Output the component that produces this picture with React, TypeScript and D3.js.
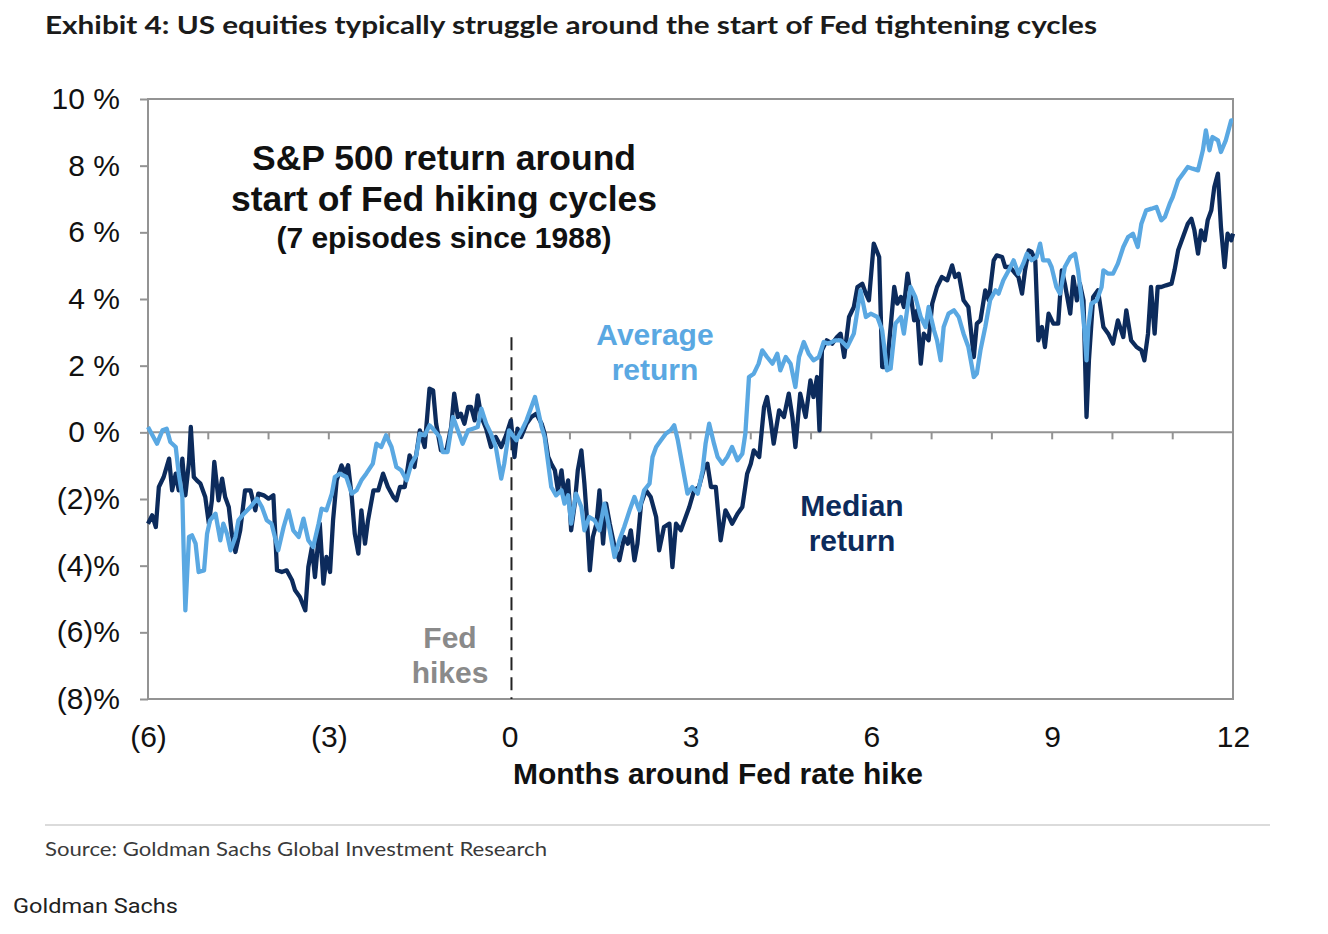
import { useEffect, useRef } from "react";
import * as d3 from "d3";

// [months around first hike, cumulative S&P 500 return %]
const averageReturn: [number, number][] = [
  [-6.0, 0.16], [-5.85, -0.34], [-5.76, 0.06], [-5.69, 0.11], [-5.63, -0.29], [-5.54, -0.44], [-5.49, -1.24],
  [-5.43, -1.94], [-5.41, -3.44], [-5.38, -5.34], [-5.32, -3.14], [-5.27, -3.09], [-5.21, -3.34], [-5.16, -4.19],
  [-5.07, -4.14], [-5.02, -3.04], [-4.97, -2.64], [-4.88, -2.44], [-4.8, -3.24], [-4.75, -2.74], [-4.69, -3.04],
  [-4.63, -3.54], [-4.55, -3.14], [-4.5, -2.64], [-4.41, -2.44], [-4.3, -2.24], [-4.19, -1.99], [-4.11, -2.24],
  [-4.03, -2.64], [-3.95, -2.74], [-3.84, -3.54], [-3.75, -2.84], [-3.67, -2.34], [-3.59, -2.94], [-3.5, -3.14],
  [-3.42, -2.59], [-3.34, -3.24], [-3.26, -3.44], [-3.17, -2.74], [-3.12, -2.29], [-3.04, -2.34], [-2.95, -1.84],
  [-2.9, -1.34], [-2.82, -1.24], [-2.71, -1.34], [-2.62, -1.84], [-2.54, -1.74], [-2.46, -1.44], [-2.38, -1.24],
  [-2.27, -0.94], [-2.21, -0.34], [-2.13, -0.44], [-2.05, -0.09], [-1.96, -0.44], [-1.88, -1.04], [-1.8, -1.14],
  [-1.71, -1.44], [-1.63, -0.94], [-1.55, -0.69], [-1.49, -0.04], [-1.41, -0.09], [-1.33, 0.21], [-1.25, 0.06],
  [-1.16, -0.14], [-1.11, -0.59], [-1.03, -0.59], [-0.94, 0.46], [-0.86, 0.06], [-0.78, -0.34], [-0.69, 0.06],
  [-0.61, 0.11], [-0.53, 0.16], [-0.47, 0.71], [-0.39, 0.26], [-0.31, -0.04], [-0.23, -0.44], [-0.14, -1.39],
  [-0.09, -0.94], [-0.01, 0.06], [0.03, -0.04], [0.11, -0.24], [0.2, 0.06], [0.28, 0.36], [0.36, 0.76],
  [0.42, 1.06], [0.47, 0.66], [0.53, 0.16], [0.58, -0.14], [0.64, -0.94], [0.69, -1.64], [0.77, -1.89],
  [0.86, -1.74], [0.91, -2.14], [0.97, -1.89], [1.02, -2.74], [1.1, -1.84], [1.19, -2.24], [1.24, -2.94],
  [1.32, -2.54], [1.41, -2.64], [1.49, -2.94], [1.57, -2.14], [1.66, -2.94], [1.74, -3.74], [1.82, -3.24],
  [1.9, -2.84], [1.99, -2.34], [2.07, -1.94], [2.15, -2.34], [2.23, -1.74], [2.32, -1.54], [2.37, -0.74],
  [2.43, -0.44], [2.51, -0.24], [2.59, -0.04], [2.67, 0.06], [2.73, 0.21], [2.79, -0.24], [2.84, -0.74],
  [2.9, -1.34], [2.95, -1.84], [3.03, -1.64], [3.12, -1.84], [3.2, -1.14], [3.25, -0.34], [3.31, 0.26],
  [3.39, -0.34], [3.45, -0.74], [3.53, -0.94], [3.61, -0.74], [3.69, -0.44], [3.78, -0.84], [3.86, -0.64],
  [3.91, -0.04], [3.97, 1.66], [4.05, 1.76], [4.13, 2.06], [4.19, 2.46], [4.27, 2.26], [4.36, 2.06],
  [4.44, 2.36], [4.49, 1.86], [4.58, 2.26], [4.66, 2.06], [4.74, 1.36], [4.8, 2.26], [4.88, 2.71],
  [4.96, 2.36], [5.04, 2.16], [5.13, 2.26], [5.21, 2.71], [5.29, 2.66], [5.4, 2.76], [5.49, 2.76],
  [5.6, 2.56], [5.71, 2.96], [5.82, 4.26], [5.91, 3.46], [5.99, 3.56], [6.1, 3.46], [6.18, 3.06],
  [6.26, 1.86], [6.32, 1.91], [6.4, 3.26], [6.49, 3.46], [6.54, 2.96], [6.6, 3.76], [6.65, 4.36],
  [6.73, 4.06], [6.82, 3.46], [6.9, 3.16], [6.95, 3.76], [7.04, 3.06], [7.09, 2.76], [7.15, 2.16],
  [7.2, 3.16], [7.28, 3.56], [7.37, 3.66], [7.45, 3.46], [7.53, 2.96], [7.61, 2.56], [7.7, 1.66],
  [7.75, 1.76], [7.81, 2.46], [7.89, 3.16], [7.97, 3.96], [8.06, 4.26], [8.11, 4.16], [8.19, 4.56],
  [8.28, 4.86], [8.36, 5.16], [8.44, 4.76], [8.52, 5.06], [8.58, 5.36], [8.66, 5.16], [8.74, 5.26],
  [8.8, 5.66], [8.85, 5.16], [8.94, 5.16], [8.99, 4.96], [9.07, 4.36], [9.13, 4.16], [9.21, 4.96],
  [9.3, 5.26], [9.38, 5.36], [9.43, 4.86], [9.49, 3.96], [9.54, 2.96], [9.57, 2.16], [9.6, 3.16],
  [9.65, 3.86], [9.74, 3.96], [9.82, 4.36], [9.85, 4.86], [9.93, 4.76], [10.01, 4.76], [10.09, 5.06],
  [10.18, 5.56], [10.26, 5.86], [10.34, 5.96], [10.42, 5.56], [10.48, 6.26], [10.56, 6.66], [10.65, 6.71],
  [10.73, 6.76], [10.81, 6.36], [10.87, 6.46], [10.95, 6.86], [11.0, 7.06], [11.09, 7.56], [11.17, 7.76],
  [11.25, 7.96], [11.33, 7.91], [11.42, 7.86], [11.5, 8.46], [11.55, 9.06], [11.61, 8.46], [11.66, 8.86],
  [11.75, 8.76], [11.8, 8.41], [11.88, 8.76], [11.97, 9.36], [12.0, 9.36],
];

const medianReturn: [number, number][] = [
  [-6.0, -2.74], [-5.93, -2.49], [-5.87, -2.84], [-5.82, -1.64], [-5.74, -1.34], [-5.65, -0.79], [-5.6, -1.74],
  [-5.54, -1.24], [-5.49, -1.74], [-5.43, -0.79], [-5.38, -1.89], [-5.32, -0.89], [-5.29, 0.16], [-5.24, -1.34],
  [-5.19, -1.44], [-5.13, -1.54], [-5.05, -1.94], [-4.99, -2.74], [-4.94, -2.04], [-4.9, -0.89], [-4.83, -2.04],
  [-4.77, -1.39], [-4.72, -1.94], [-4.66, -2.24], [-4.61, -3.04], [-4.55, -3.59], [-4.47, -2.94], [-4.39, -1.74],
  [-4.3, -1.74], [-4.22, -2.34], [-4.17, -1.84], [-4.08, -1.89], [-4.0, -1.99], [-3.92, -1.89], [-3.86, -4.14],
  [-3.78, -4.19], [-3.7, -4.14], [-3.61, -4.44], [-3.56, -4.74], [-3.48, -4.94], [-3.39, -5.34], [-3.34, -4.04],
  [-3.28, -3.44], [-3.23, -4.34], [-3.15, -2.74], [-3.09, -4.54], [-3.04, -3.74], [-2.98, -4.19], [-2.93, -2.64],
  [-2.87, -1.44], [-2.79, -0.99], [-2.73, -1.24], [-2.68, -0.99], [-2.62, -1.94], [-2.57, -3.04], [-2.51, -3.64],
  [-2.46, -2.34], [-2.4, -3.34], [-2.35, -2.64], [-2.26, -1.74], [-2.18, -1.74], [-2.1, -1.24], [-2.02, -1.64],
  [-1.93, -1.94], [-1.88, -2.04], [-1.82, -1.64], [-1.74, -1.64], [-1.66, -0.69], [-1.58, -1.04], [-1.49, 0.06],
  [-1.41, -0.44], [-1.33, 1.31], [-1.27, 1.26], [-1.22, 0.26], [-1.14, -0.54], [-1.05, -0.54], [-0.97, 0.16],
  [-0.92, 1.16], [-0.86, 0.46], [-0.81, 0.56], [-0.75, 0.26], [-0.69, 0.76], [-0.64, 0.76], [-0.58, 0.36],
  [-0.53, 1.11], [-0.47, 0.46], [-0.39, 0.11], [-0.31, -0.44], [-0.23, -0.14], [-0.14, -0.44], [-0.06, -0.09],
  [0.02, 0.36], [0.08, -0.74], [0.13, 0.11], [0.19, -0.14], [0.28, 0.26], [0.36, 0.46], [0.44, 0.56],
  [0.53, 0.26], [0.58, -0.04], [0.64, -0.74], [0.69, -0.94], [0.75, -1.14], [0.8, -1.74], [0.86, -1.14],
  [0.91, -1.94], [0.97, -1.44], [1.02, -2.94], [1.08, -2.14], [1.13, -1.14], [1.19, -0.54], [1.24, -1.54],
  [1.28, -2.54], [1.33, -4.14], [1.38, -3.14], [1.44, -2.74], [1.49, -1.74], [1.55, -3.34], [1.6, -2.14],
  [1.66, -2.74], [1.74, -3.44], [1.82, -3.84], [1.9, -3.14], [1.96, -3.34], [2.01, -2.94], [2.07, -3.84],
  [2.12, -3.34], [2.18, -2.14], [2.26, -1.74], [2.34, -1.94], [2.43, -2.54], [2.48, -3.54], [2.56, -2.84],
  [2.65, -2.74], [2.7, -4.04], [2.76, -2.74], [2.84, -2.94], [2.92, -2.54], [2.98, -2.24], [3.06, -1.74],
  [3.14, -1.64], [3.23, -1.04], [3.28, -0.94], [3.34, -1.64], [3.42, -1.64], [3.5, -3.24], [3.58, -2.34],
  [3.64, -2.54], [3.69, -2.74], [3.78, -2.44], [3.86, -2.24], [3.94, -1.24], [4.0, -0.94], [4.05, -0.54],
  [4.14, -0.74], [4.22, 0.76], [4.27, 1.06], [4.33, 0.36], [4.38, -0.34], [4.47, 0.66], [4.55, 0.46],
  [4.63, 1.16], [4.69, 0.46], [4.74, -0.44], [4.82, 1.16], [4.91, 0.46], [4.99, 1.56], [5.04, 1.06],
  [5.1, 1.66], [5.14, 0.06], [5.18, 2.46], [5.26, 2.76], [5.35, 2.66], [5.43, 2.86], [5.49, 2.96],
  [5.55, 2.26], [5.63, 3.46], [5.71, 3.76], [5.77, 4.36], [5.85, 4.46], [5.91, 4.16], [5.96, 3.96],
  [6.04, 5.66], [6.13, 5.26], [6.18, 1.96], [6.26, 1.96], [6.32, 3.16], [6.38, 4.36], [6.43, 3.86],
  [6.49, 4.06], [6.54, 3.76], [6.6, 4.76], [6.65, 4.16], [6.71, 3.36], [6.76, 3.66], [6.82, 2.06],
  [6.87, 2.96], [6.95, 2.76], [7.01, 3.86], [7.09, 4.36], [7.17, 4.66], [7.26, 4.56], [7.34, 5.01],
  [7.39, 4.66], [7.45, 4.76], [7.53, 3.96], [7.61, 3.76], [7.7, 2.26], [7.75, 3.26], [7.81, 3.36],
  [7.89, 4.26], [7.95, 3.96], [8.03, 5.16], [8.08, 5.31], [8.17, 5.26], [8.22, 4.96], [8.3, 4.96],
  [8.39, 4.76], [8.44, 4.66], [8.5, 4.16], [8.55, 4.86], [8.61, 5.46], [8.66, 5.41], [8.72, 5.16],
  [8.77, 2.76], [8.83, 3.16], [8.88, 2.56], [8.94, 3.56], [9.02, 3.26], [9.1, 3.26], [9.16, 4.86],
  [9.21, 4.46], [9.3, 3.56], [9.35, 4.66], [9.41, 3.96], [9.46, 4.46], [9.52, 3.96], [9.57, 0.46],
  [9.61, 2.16], [9.68, 4.06], [9.76, 4.26], [9.85, 3.16], [9.93, 2.96], [10.01, 2.66], [10.09, 3.36],
  [10.18, 2.86], [10.23, 3.66], [10.31, 2.76], [10.4, 2.56], [10.48, 2.46], [10.53, 2.16], [10.59, 2.96],
  [10.64, 4.36], [10.7, 2.96], [10.75, 4.36], [10.81, 4.36], [10.89, 4.41], [10.98, 4.46], [11.03, 4.86],
  [11.09, 5.46], [11.17, 5.86], [11.25, 6.26], [11.31, 6.41], [11.36, 6.06], [11.42, 5.36], [11.47, 6.06],
  [11.53, 5.76], [11.58, 6.36], [11.64, 6.66], [11.69, 7.36], [11.75, 7.76], [11.8, 6.16], [11.86, 4.96],
  [11.91, 5.96], [11.97, 5.76], [12.0, 5.96],
];

const yTickValues = [10, 8, 6, 4, 2, 0, -2, -4, -6, -8];
const yTickLabels = ["10 %", "8 %", "6 %", "4 %", "2 %", "0 %", "(2)%", "(4)%", "(6)%", "(8)%"];
const xLabelValues = [-6, -3, 0, 3, 6, 9, 12];
const xLabelTexts = ["(6)", "(3)", "0", "3", "6", "9", "12"];

const COLORS = {
  average: "#5aa8e2",
  median: "#0c2b5c",
  axis: "#939393",
  text: "#111111",
  fed: "#8a8a8a",
  rule: "#cfcfcf",
  source: "#3a3a3a",
};

const WIDTH = 1328;
const HEIGHT = 934;
const plot = { left: 148, right: 1233, top: 99, bottom: 699 };
const ARIAL = "'Liberation Sans', Arial, sans-serif";

export default function App() {
  const svgRef = useRef<SVGSVGElement>(null);

  useEffect(() => {
    if (!svgRef.current) return;
    const svg = d3.select(svgRef.current);
    svg.selectAll("*").remove();

    const x = d3.scaleLinear().domain([-6, 12]).range([plot.left, plot.right]);
    const y = d3.scaleLinear().domain([-8, 10]).range([plot.bottom, plot.top]);

    svg.append("rect").attr("width", WIDTH).attr("height", HEIGHT).attr("fill", "#fff");

    // header
    svg.append("text")
      .attr("x", 45).attr("y", 34)
      .attr("font-family", "Lato, 'Open Sans', sans-serif")
      .attr("font-weight", 700)
      .attr("font-size", 25)
      .attr("fill", "#1b1b1b")
      .attr("textLength", 1052)
      .attr("lengthAdjust", "spacingAndGlyphs")
      .text("Exhibit 4: US equities typically struggle around the start of Fed tightening cycles");

    // plot frame
    const frame = svg.append("g").attr("stroke", COLORS.axis).attr("stroke-width", 2).attr("fill", "none");
    frame.append("rect")
      .attr("x", plot.left).attr("y", plot.top)
      .attr("width", plot.right - plot.left).attr("height", plot.bottom - plot.top);

    // zero line with monthly ticks
    frame.append("line")
      .attr("x1", plot.left).attr("x2", plot.right)
      .attr("y1", y(0)).attr("y2", y(0));
    frame.selectAll("line.mtick")
      .data(x.ticks(18).filter((d) => d > -6 && d < 12))
      .join("line")
      .attr("class", "mtick")
      .attr("x1", (d) => x(d)).attr("x2", (d) => x(d))
      .attr("y1", y(0)).attr("y2", y(0) + 7);

    // y axis
    const yAxis = svg.append("g")
      .attr("transform", `translate(${plot.left},0)`)
      .call(d3.axisLeft(y).tickValues(yTickValues).tickSize(8).tickPadding(20)
        .tickFormat((_, i) => yTickLabels[i]));
    yAxis.select(".domain").remove();
    yAxis.selectAll("line").attr("stroke", COLORS.axis).attr("stroke-width", 2);
    yAxis.selectAll("text")
      .attr("fill", COLORS.text)
      .attr("font-size", 30)
      .attr("font-family", ARIAL);

    // x axis labels
    const xAxis = svg.append("g")
      .attr("transform", `translate(0,${plot.bottom})`)
      .call(d3.axisBottom(x).tickValues(xLabelValues).tickSize(0).tickPadding(27)
        .tickFormat((_, i) => xLabelTexts[i]));
    xAxis.select(".domain").remove();
    xAxis.selectAll("text")
      .attr("fill", COLORS.text)
      .attr("font-size", 30)
      .attr("font-family", ARIAL);

    svg.append("text")
      .attr("x", 718).attr("y", 784)
      .attr("text-anchor", "middle")
      .attr("font-family", ARIAL).attr("font-weight", 700).attr("font-size", 30)
      .attr("fill", COLORS.text)
      .text("Months around Fed rate hike");

    // Fed hike marker
    svg.append("line")
      .attr("x1", x(0.03)).attr("x2", x(0.03))
      .attr("y1", y(2.85)).attr("y2", plot.bottom)
      .attr("stroke", "#222").attr("stroke-width", 2)
      .attr("stroke-dasharray", "13,7");

    // series
    const line = d3.line<[number, number]>()
      .x((d) => x(d[0]))
      .y((d) => y(d[1]));

    svg.append("path")
      .datum(medianReturn)
      .attr("d", line)
      .attr("fill", "none")
      .attr("stroke", COLORS.median)
      .attr("stroke-width", 4.3)
      .attr("stroke-linejoin", "round");

    svg.append("path")
      .datum(averageReturn)
      .attr("d", line)
      .attr("fill", "none")
      .attr("stroke", COLORS.average)
      .attr("stroke-width", 4.3)
      .attr("stroke-linejoin", "round");

    // annotations
    const addLines = (cx: number, baselines: number[], lines: string[], size: number, color: string) => {
      lines.forEach((t, i) => {
        svg.append("text")
          .attr("x", cx).attr("y", baselines[i])
          .attr("text-anchor", "middle")
          .attr("font-family", ARIAL).attr("font-weight", 700).attr("font-size", size)
          .attr("fill", color)
          .text(t);
      });
    };
    addLines(444, [170, 211], ["S&P 500 return around", "start of Fed hiking cycles"], 35.5, COLORS.text);
    addLines(444, [248], ["(7 episodes since 1988)"], 30, COLORS.text);
    addLines(655, [345, 380], ["Average", "return"], 30, COLORS.average);
    addLines(852, [516, 551], ["Median", "return"], 30, COLORS.median);
    addLines(450, [648, 683], ["Fed", "hikes"], 30, COLORS.fed);

    // footer
    svg.append("line")
      .attr("x1", 45).attr("x2", 1270)
      .attr("y1", 825).attr("y2", 825)
      .attr("stroke", COLORS.rule).attr("stroke-width", 1.5);

    svg.append("text")
      .attr("x", 45).attr("y", 856)
      .attr("font-family", "Lato, 'Open Sans', sans-serif")
      .attr("font-size", 20)
      .attr("fill", COLORS.source)
      .attr("textLength", 502)
      .attr("lengthAdjust", "spacingAndGlyphs")
      .text("Source: Goldman Sachs Global Investment Research");

    svg.append("text")
      .attr("x", 13).attr("y", 913)
      .attr("font-family", "Roboto, sans-serif")
      .attr("font-size", 21)
      .attr("fill", "#222")
      .attr("textLength", 165)
      .attr("lengthAdjust", "spacingAndGlyphs")
      .text("Goldman Sachs");
  }, []);

  return (
    <svg
      ref={svgRef}
      width={WIDTH}
      height={HEIGHT}
      style={{ position: "absolute", left: 0, top: 0, display: "block" }}
    />
  );
}
